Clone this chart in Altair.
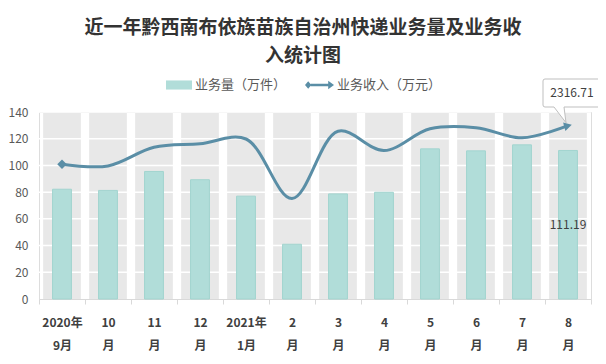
import altair as alt
import pandas as pd

months = ["2020年|9月", "10|月", "11|月", "12|月", "2021年|1月", "2|月",
          "3|月", "4|月", "5|月", "6|月", "7|月", "8|月"]
volume = [82.2, 81.3, 95.5, 89.3, 77.0, 41.0, 78.7, 79.9, 112.4, 110.9, 115.4, 111.19]
revenue = [1800, 1779, 2029, 2075, 2139, 1343, 2243, 1985, 2275, 2290, 2155, 2316.71]
y_ticks = [0, 20, 40, 60, 80, 100, 120, 140]
grid_vals = [20, 40, 60, 80, 100, 120, 140]

title_lines = ["近一年黔西南布依族苗族自治州快递业务量及业务收", "入统计图"]
vol_name = "业务量（万件）"
rev_name = "业务收入（万元）"

df = pd.DataFrame({"month": months, "volume": volume, "revenue": revenue})
grid_df = pd.DataFrame({"v": grid_vals})

FONT = "Noto Sans CJK SC"
BAR_FILL = "#b1ddd9"
BAR_STROKE = "#a2d4cf"
BG_GRAY = "#e8e8e8"
LINE_C = "#5a8ea6"

x_enc = alt.X(
    "month:N", sort=months, title=None,
    scale=alt.Scale(paddingInner=0, paddingOuter=0),
    axis=alt.Axis(
        labelExpr="datum.value ? split(datum.value, '|') : ''", labelAngle=0,
        labelFont=FONT, labelFontSize=12, labelFontWeight="bold",
        labelColor="#404040", labelLineHeight=23, labelPadding=13,
        domainColor="#d9d9d9", tickColor="#d9d9d9", tickSize=5,
        tickBand="extent", grid=False,
    ),
)

y_axis = alt.Axis(values=y_ticks, title=None, grid=False, domain=False, ticks=False,
                  orient="left", labelFont=FONT, labelFontSize=12,
                  labelColor="#595959", labelPadding=11)
y_scale = alt.Scale(domain=[0, 140], nice=False)

base = alt.Chart(df)

bg = base.mark_bar(width={"band": 0.82}, color=BG_GRAY).encode(
    x=x_enc,
    y=alt.Y(datum=140, scale=y_scale, axis=None, title=None),
    y2=alt.datum(0),
)

grid = alt.Chart(grid_df).mark_rule(color="white", strokeWidth=1.5).encode(
    y=alt.Y("v:Q", scale=y_scale, axis=None),
)

rect_sym = "M-1,-0.35 L1,-0.35 L1,0.35 L-1,0.35 Z"
bars = base.transform_calculate(series=f"'{vol_name}'").mark_bar(
    width={"band": 0.41}, stroke=BAR_STROKE, strokeWidth=1
).encode(
    x=x_enc,
    y=alt.Y("volume:Q", scale=y_scale, axis=y_axis, title=None),
    fill=alt.Fill("series:N", scale=alt.Scale(domain=[vol_name], range=[BAR_FILL]),
                  legend=alt.Legend(orient="none", legendX=127, legendY=-40, title=None,
                                    symbolType=rect_sym, symbolSize=676,
                                    symbolStrokeWidth=0, padding=0,
                                    labelFont=FONT, labelFontSize=13,
                                    labelColor="#595959", labelOffset=3)),
)

bar_label = base.transform_filter(alt.datum.month == months[-1]).transform_calculate(
    mid="datum.volume / 2"
).mark_text(font=FONT, fontSize=12, color="#404040").encode(
    x=x_enc,
    y=alt.Y("mid:Q", scale=y_scale, axis=None),
    text=alt.Text("volume:Q", format=".2f"),
)

rev_scale = alt.Scale(domain=[0, 2500], nice=False)
line_sym = ("M-1,0 L-0.78,-0.26 L-0.56,0 L-0.78,0.26 Z "
            "M-0.6,-0.09 L0.6,-0.09 L0.6,-0.3 L1,0 L0.6,0.3 L0.6,0.09 L-0.6,0.09 Z")
line = base.transform_calculate(series=f"'{rev_name}'").mark_line(
    interpolate="catmull-rom", strokeWidth=3
).encode(
    x=x_enc,
    y=alt.Y("revenue:Q", scale=rev_scale, axis=None),
    stroke=alt.Stroke("series:N", scale=alt.Scale(domain=[rev_name], range=[LINE_C]),
                      legend=alt.Legend(orient="none", legendX=266, legendY=-41.5, title=None,
                                        symbolType=line_sym, symbolSize=841,
                                        symbolFillColor=LINE_C, symbolStrokeWidth=0,
                                        padding=0, labelFont=FONT, labelFontSize=13,
                                        labelColor="#595959", labelOffset=3)),
)

first_pt = base.transform_filter(alt.datum.month == months[0]).mark_point(
    shape="diamond", filled=True, size=90, color=LINE_C, opacity=1
).encode(x=x_enc, y=alt.Y("revenue:Q", scale=rev_scale, axis=None))

last_pt = base.transform_filter(alt.datum.month == months[-1]).mark_point(
    shape="triangle-right", filled=True, size=80, color=LINE_C, opacity=1, angle=345
).encode(x=x_enc, y=alt.Y("revenue:Q", scale=rev_scale, axis=None))

callout_path = ("M-0.46,-0.934 L0.64,-0.934 Q0.68,-0.934 0.68,-0.894 L0.68,-0.414 "
                "Q0.68,-0.374 0.64,-0.374 L-0.08,-0.374 L-0.04,-0.06 L-0.28,-0.374 "
                "L-0.46,-0.374 Q-0.5,-0.374 -0.5,-0.414 L-0.5,-0.894 Q-0.5,-0.934 -0.46,-0.934 Z")
callout = base.transform_filter(alt.datum.month == months[-1]).mark_point(
    shape=callout_path, size=10000, filled=True, fill="white", stroke="#bfbfbf",
    strokeWidth=1, opacity=1
).encode(x=x_enc, y=alt.Y("revenue:Q", scale=rev_scale, axis=None))

callout_text = base.transform_filter(alt.datum.month == months[-1]).mark_text(
    font=FONT, fontSize=12, color="#404040", dx=4, dy=-33
).encode(
    x=x_enc, y=alt.Y("revenue:Q", scale=rev_scale, axis=None),
    text=alt.Text("revenue:Q", format=".2f"),
)

chart = alt.layer(
    bg, grid, bars, bar_label, line, first_pt, last_pt, callout, callout_text
).resolve_scale(
    y="independent", fill="independent", stroke="independent"
).properties(
    width=552, height=187,
    autosize=alt.AutoSizeParams(type="none"),
    padding={"left": 31, "top": 104, "right": 7, "bottom": 57},
    title=alt.Title(text=title_lines, anchor="middle", frame="group", fontSize=19,
                    font=FONT, fontWeight="bold", color="#333333", lineHeight=28,
                    offset=5, dx=-12),
).configure_view(stroke=None).configure(background="white")

chart.save("out.html", embed_options={"renderer": "svg", "actions": False})
